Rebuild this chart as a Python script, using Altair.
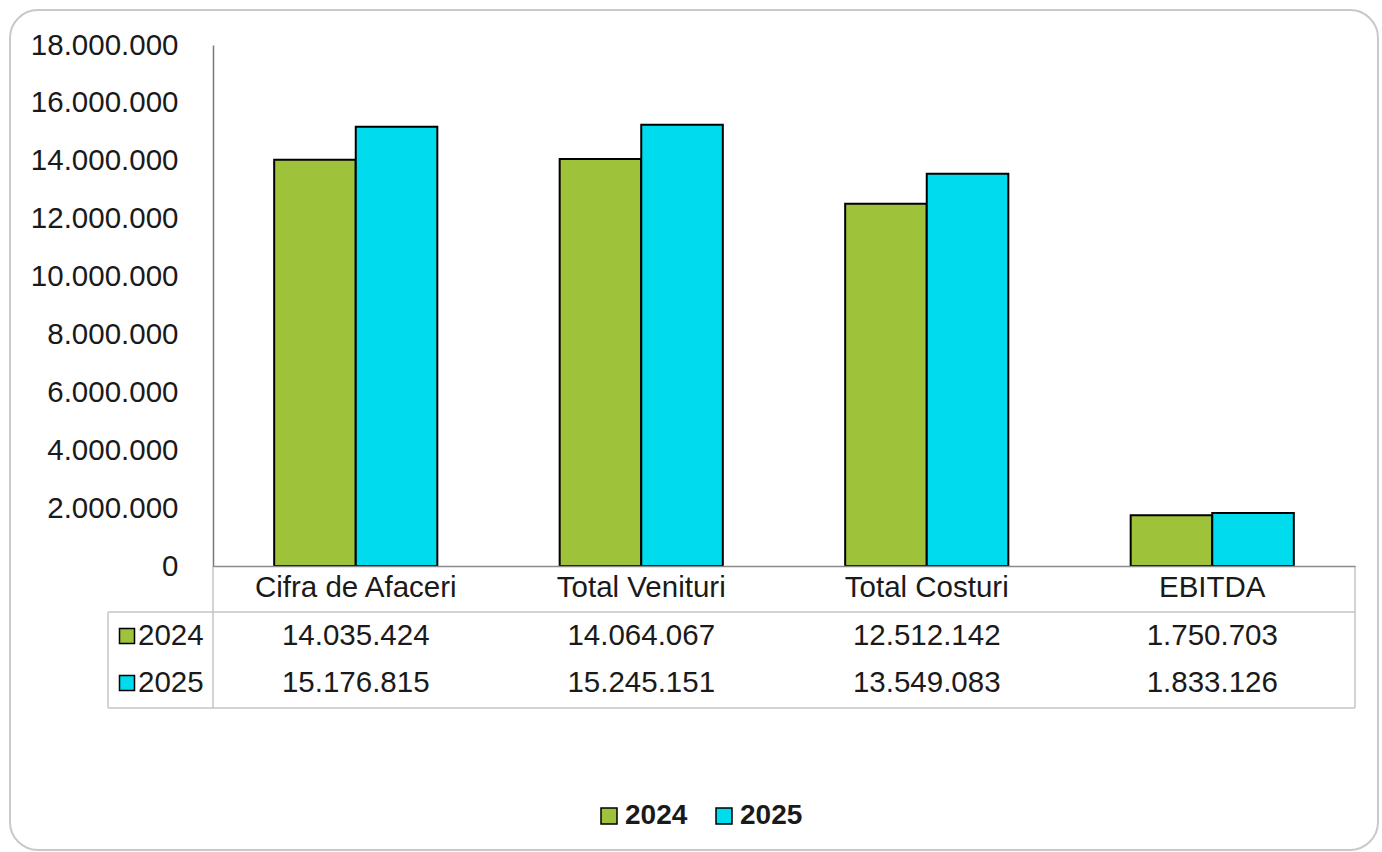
import altair as alt
import pandas as pd

# Indicatori financiari, 2024 vs 2025
categories = ["Cifra de Afaceri", "Total Venituri", "Total Costuri", "EBITDA"]
years = ["2024", "2025"]
values_2024 = [14035424, 14064067, 12512142, 1750703]
values_2025 = [15176815, 15245151, 13549083, 1833126]
colors = ["#9EC23A", "#00DCEE"]
y_ticks = [0, 2000000, 4000000, 6000000, 8000000, 10000000, 12000000, 14000000, 16000000, 18000000]

FONT = "Liberation Sans"
TEXT = "#1a1a1a"
GRID = "#c4c4c4"
FS = 29.5

rows = []
for yr, vals in zip(years, [values_2024, values_2025]):
    for cat, v in zip(categories, vals):
        rows.append({"categorie": cat, "an": yr, "valoare": v,
                     "eticheta": f"{v:,}".replace(",", ".")})
df = pd.DataFrame(rows)
one = alt.Data(values=[{"k": 1}])

# plot area: 1142 x 521, placed by padding inside the 1382 x 852 page
W, H = 1142, 521

x_scale = alt.Scale(domain=categories, paddingInner=0, paddingOuter=0)
x_axis = alt.Axis(title=None, labelAngle=0, labelFontSize=FS, labelPadding=7,
                  labelLimit=400, ticks=False, domainColor="#8a8a8a", domainWidth=1.5,
                  labelColor=TEXT, labelFont=FONT, zindex=1)

background = alt.Chart(one).mark_rect(
    cornerRadius=28, fill="white", fillOpacity=0, stroke="#c9c9c9", strokeWidth=2
).encode(x=alt.value(-203), x2=alt.value(1165), y=alt.value(-35), y2=alt.value(805))

bars = alt.Chart(df).mark_bar(stroke="black", strokeWidth=2).encode(
    x=alt.X("categorie:N", sort=categories, scale=x_scale, axis=x_axis),
    xOffset=alt.XOffset("an:N", scale=alt.Scale(domain=years, paddingOuter=0.75, paddingInner=0)),
    y=alt.Y("valoare:Q", scale=alt.Scale(domain=[0, 18000000], nice=False),
            axis=alt.Axis(title=None, values=y_ticks, grid=False, ticks=False,
                          labelExpr="join(split(format(datum.value, ','), ','), '.')",
                          labelFontSize=FS, labelPadding=35, labelColor=TEXT,
                          labelFont=FONT, domainColor="#7a7a7a", domainWidth=1.5, zindex=1)),
    color=alt.Color("an:N", scale=alt.Scale(domain=years, range=colors),
                    legend=alt.Legend(title=None, orient="none", direction="horizontal",
                                      legendX=382, legendY=757, padding=0,
                                      symbolType="square", symbolSize=256,
                                      symbolStrokeColor="black", symbolStrokeWidth=1.5,
                                      labelFontSize=28, labelFontWeight="bold",
                                      labelFont=FONT, labelColor=TEXT,
                                      labelOffset=2, columnPadding=22)),
)

def hline(y, x0, x1):
    return alt.Chart(one).mark_rule(color=GRID, strokeWidth=1.5).encode(
        x=alt.value(x0), x2=alt.value(x1), y=alt.value(y), y2=alt.value(y))

def vline(x, y0, y1):
    return alt.Chart(one).mark_rule(color=GRID, strokeWidth=1.5).encode(
        x=alt.value(x), x2=alt.value(x), y=alt.value(y0), y2=alt.value(y1))

# data table under the chart
table_lines = [
    hline(567, -105, W),
    hline(663, -105, W),
    vline(-105, 567, 663),
    vline(0, H, 663),
    vline(W, H, 663),
]

row_y = [591, 638]
table_layers = []
for i, yr in enumerate(years):
    table_layers.append(
        alt.Chart(df).transform_filter(alt.datum.an == yr).mark_text(
            fontSize=FS, font=FONT, color=TEXT, align="center", baseline="middle"
        ).encode(
            x=alt.X("categorie:N", sort=categories, scale=x_scale, axis=x_axis, bandPosition=0.5),
            y=alt.value(row_y[i]),
            text="eticheta:N",
        )
    )
    table_layers.append(
        alt.Chart(one).mark_square(size=225, stroke="black", strokeWidth=1.5, opacity=1,
                                   fill=colors[i]).encode(
            x=alt.value(-86), y=alt.value(row_y[i]))
    )
    table_layers.append(
        alt.Chart(one).mark_text(fontSize=FS, font=FONT, color=TEXT, align="left",
                                 baseline="middle").encode(
            x=alt.value(-75), y=alt.value(row_y[i]), text=alt.value(yr))
    )

chart = alt.layer(background, bars, *table_lines, *table_layers).properties(
    width=W, height=H,
    autosize=alt.AutoSizeParams(type="none"),
    padding={"left": 213, "top": 45, "right": 27, "bottom": 286},
    background="white",
).configure(font=FONT).configure_view(strokeWidth=0)

chart.save("out.html", embed_options={"renderer": "svg", "actions": False})
